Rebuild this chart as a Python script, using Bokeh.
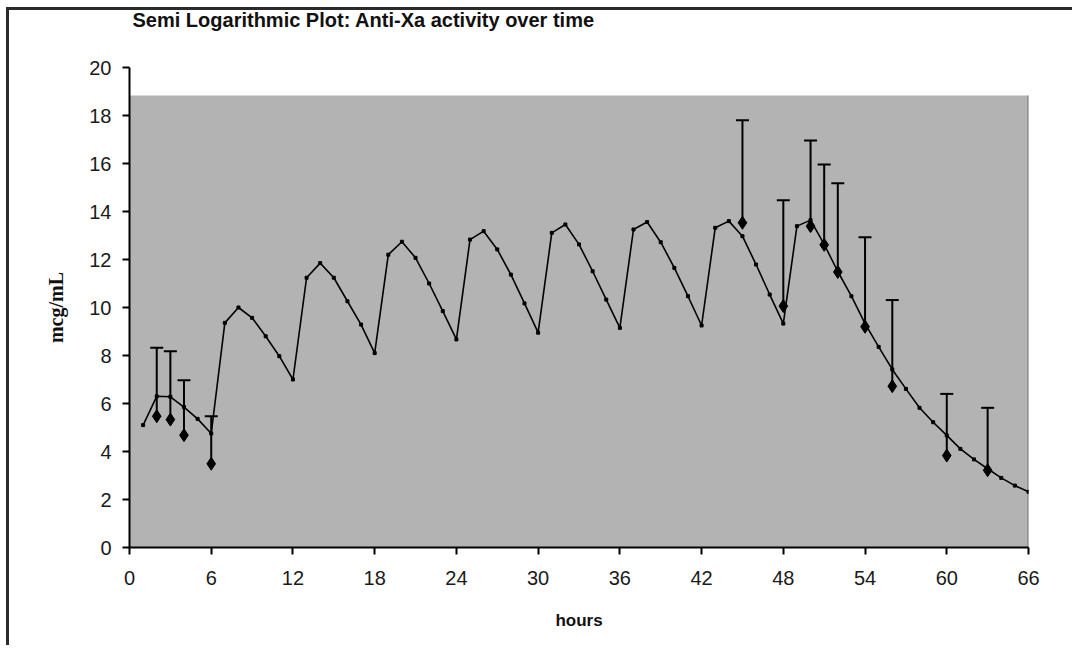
from bokeh.plotting import figure
from bokeh.models import Range1d, FixedTicker, Whisker, TeeHead, ColumnDataSource
from bokeh.embed import file_html
from bokeh.resources import INLINE

# ---- data ----
x_ticks = [0, 6, 12, 18, 24, 30, 36, 42, 48, 54, 60, 66]
y_ticks = [0, 2, 4, 6, 8, 10, 12, 14, 16, 18, 20]

model_hours = list(range(1, 67))
model_values = [
    5.10, 6.30, 6.28, 5.85, 5.36, 4.75, 9.36, 10.00, 9.57, 8.80, 7.97, 7.00,
    11.24, 11.85, 11.24, 10.26, 9.29, 8.10, 12.20, 12.74, 12.07, 11.00, 9.85, 8.67,
    12.83, 13.18, 12.42, 11.37, 10.17, 8.95, 13.11, 13.46, 12.63, 11.51, 10.33, 9.15,
    13.25, 13.56, 12.72, 11.65, 10.47, 9.25, 13.32, 13.60, 12.97, 11.79, 10.54, 9.33,
    13.39, 13.64, 12.63, 11.50, 10.47, 9.33, 8.36, 7.42, 6.61, 5.82, 5.22, 4.67,
    4.11, 3.67, 3.28, 2.90, 2.58, 2.32,
]

obs_hours = [2, 3, 4, 6, 45, 48, 50, 51, 52, 54, 56, 60, 63]
obs_values = [5.47, 5.33, 4.68, 3.49, 13.53, 10.06, 13.39, 12.61, 11.48, 9.20, 6.72, 3.83, 3.22]
obs_upper = [8.32, 8.18, 6.97, 5.47, 17.80, 14.47, 16.96, 15.96, 15.18, 12.93, 10.31, 6.40, 5.82]

plot_area_top = 18.83

title_text = "Semi Logarithmic Plot: Anti-Xa activity over time"

# ---- figure ----
p = figure(
    width=1072, height=645,
    x_range=Range1d(x_ticks[0], x_ticks[-1]),
    y_range=Range1d(y_ticks[0], y_ticks[-1]),
    output_backend="svg", toolbar_location=None,
    min_border_left=129, min_border_right=44,
    min_border_top=67, min_border_bottom=98,
)
p.title.text = title_text + "\n"   # trailing empty line lifts the title towards the top
p.styles = {
    "background": "linear-gradient(#2b2b2b, #2b2b2b) 6px 7px / 3px calc(100% - 7px) no-repeat, "
                  "linear-gradient(#2b2b2b, #2b2b2b) 6px 7px / calc(100% - 6px) 3px no-repeat, #ffffff",
}
p.background_fill_color = None
p.border_fill_color = None
p.outline_line_color = None
p.grid.visible = False

p.title.text_font = "Liberation Sans"
p.title.text_font_size = "20px"
p.title.text_font_style = "bold"
p.title.text_color = "#111111"
p.title.align = "left"
p.title.offset = 3
p.title.standoff = 0
p.title.text_line_height = 1.65

# gray plot area
bg = p.quad(left=[x_ticks[0]], right=[x_ticks[-1]], bottom=[y_ticks[0]], top=[plot_area_top],
            fill_color="#b3b3b3", line_color=None)
bg.level = "image"
edge = p.segment(x0=[x_ticks[-1]], x1=[x_ticks[-1]], y0=[y_ticks[0]], y1=[plot_area_top],
                 line_color="#7a7a7a", line_width=2)
edge.level = "image"

# model curve
p.line(model_hours, model_values, line_color="black", line_width=1.6)
p.scatter(model_hours, model_values, marker="square", size=3, color="black")

# error bars
src = ColumnDataSource(dict(x=obs_hours, lower=obs_values, upper=obs_upper))
w = Whisker(source=src, base="x", lower="lower", upper="upper",
            line_color="black", line_width=2,
            upper_head=TeeHead(size=13, line_width=2, line_color="black"),
            lower_head=None)
w.level = "underlay"
p.add_layout(w)

# observed points
p.scatter(obs_hours, obs_values, marker="diamond", size=13, color="black")

# axes
p.xaxis.ticker = FixedTicker(ticks=x_ticks)
p.yaxis.ticker = FixedTicker(ticks=y_ticks)
for ax in (p.xaxis, p.yaxis):
    ax.minor_tick_line_color = None
    ax.major_tick_in = 0
    ax.major_tick_out = 7
    ax.axis_line_width = 2
    ax.major_tick_line_width = 2
    ax.axis_line_color = "black"
    ax.major_tick_line_color = "black"
    ax.major_label_text_font = "Liberation Sans"
    ax.major_label_text_font_size = "20px"
    ax.major_label_text_color = "#1a1a1a"

p.xaxis.major_label_standoff = 16
p.yaxis.major_label_standoff = 11

p.xaxis.axis_label = "hours"
p.xaxis.axis_label_text_font = "Liberation Sans"
p.xaxis.axis_label_text_font_style = "bold"
p.xaxis.axis_label_text_font_size = "17px"
p.xaxis.axis_label_text_color = "#111111"
p.xaxis.axis_label_standoff = 23

p.yaxis.axis_label = "mcg/mL"
p.yaxis.axis_label_text_font = "Liberation Serif"
p.yaxis.axis_label_text_font_style = "bold"
p.yaxis.axis_label_text_font_size = "20px"
p.yaxis.axis_label_text_color = "#111111"
p.yaxis.axis_label_standoff = 19

open("out.html", "w").write(file_html(p, INLINE))
